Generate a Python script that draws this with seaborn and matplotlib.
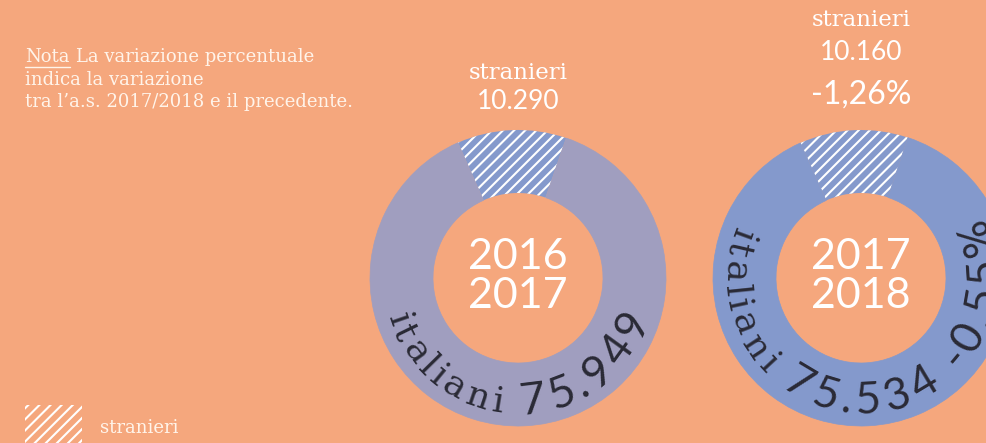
import numpy as np
import matplotlib
matplotlib.use("Agg")
import matplotlib.pyplot as plt
import seaborn as sns
from matplotlib.font_manager import FontProperties, findfont, get_font
from matplotlib.patches import Rectangle

# ---- data ----
years = ["2016\n2017", "2017\n2018"]
stranieri = [10290, 10160]
italiani = [75949, 75534]
stranieri_labels = ["10.290", "10.160"]
italiani_labels = ["75.949", "75.534"]
var_stranieri = [None, "-1,26%"]
var_italiani = [None, "-0,55%"]
ring_colors = ["#A09EBF", "#8499CC"]

BG = "#F5A77D"
HATCH_BG = "#8499CC"
DARK = "#2A2A35"
CREAM = "#FFF4EA"

sns.set_theme(style="white", rc={"figure.facecolor": BG, "axes.facecolor": BG,
                                 "hatch.color": "white", "hatch.linewidth": 1.5})
plt.rcParams["font.family"] = ["DejaVu Sans"]

W, H = 987, 443
fig = plt.figure(figsize=(W / 100, H / 100), dpi=100)
ax = fig.add_axes([0, 0, 1, 1])

SERIF = "DejaVu Serif"
SANS = "Lato"


def fp(family, size, weight="normal"):
    return FontProperties(family=family, size=size, weight=weight)


def advances(text, prop):
    font = get_font(findfont(prop))
    font.set_size(prop.get_size_in_points(), 100)
    out = []
    for c in text:
        g = font.load_char(ord(c))
        out.append(g.linearHoriAdvance / 65536.0)
    return out


def arc_text(segments, cx, cy, R, th0, th1, color):
    chars, props, adv = [], [], []
    for s, p in segments:
        a = advances(s, p)
        chars += list(s)
        props += [p] * len(s)
        adv += a
    adv = np.array(adv)
    pos = np.cumsum(adv) - adv / 2
    pos = (pos - pos[0]) / (pos[-1] - pos[0])
    for c, p, u in zip(chars, props, pos):
        if c == " ":
            continue
        th = np.radians(th0 + (th1 - th0) * u)
        ax.text(cx + R * np.cos(th), cy + R * np.sin(th), c,
                rotation=np.degrees(th) + 90, rotation_mode="anchor",
                ha="center", va="baseline", fontproperties=p, color=color)


centers = [(518, 165), (861, 165)]
starts = [71.0, 71.5]
R_OUT, WIDTH = 148, 63

for i in range(2):
    cx, cy = centers[i]
    wedges, _ = ax.pie([stranieri[i], italiani[i]], center=(cx, cy), radius=R_OUT,
                       startangle=starts[i], counterclock=True,
                       colors=[HATCH_BG, ring_colors[i]],
                       wedgeprops=dict(width=WIDTH, linewidth=0))
    wedges[0].set_hatch("///")
    wedges[0].set_edgecolor("white")
    wedges[0].set_linewidth(0)
    wedges[1].set_edgecolor(ring_colors[i])
    wedges[1].set_linewidth(0.5)
    y1, y2 = years[i].split("\n")
    ax.text(cx, cy + 21, y1, ha="center", va="center", color="white",
            fontproperties=fp(SANS, 31))
    ax.text(cx, cy - 18, y2, ha="center", va="center", color="white",
            fontproperties=fp(SANS, 31))

ax.set_xlim(0, W)
ax.set_ylim(0, H)
ax.set_aspect("equal")
ax.axis("off")

# top labels
ax.text(518, 370, "stranieri", ha="center", va="center", color="white",
        fontproperties=fp(SERIF, 16.5))
ax.text(518, 342, stranieri_labels[0], ha="center", va="center", color="white",
        fontproperties=fp(SANS, 19))
ax.text(861, 423, "stranieri", ha="center", va="center", color="white",
        fontproperties=fp(SERIF, 16.5))
ax.text(861, 391, stranieri_labels[1], ha="center", va="center", color="white",
        fontproperties=fp(SANS, 19))
ax.text(861, 348, var_stranieri[1], ha="center", va="center", color="white",
        fontproperties=fp(SANS, 23))

# curved labels
arc_text([("italiani ", fp(SERIF, 26)), (italiani_labels[0], fp(SANS, 32))],
         518, 165, 136, 199, 338, DARK)
arc_text([("italiani ", fp(SERIF, 26)), (italiani_labels[1], fp(SANS, 32))],
         861, 165, 136, 160, 301, DARK)
arc_text([(var_italiani[1], fp(SANS, 32))], 861, 165, 136, 320, 380, DARK)

# note
note_fp = fp(SERIF, 13)
t = ax.text(25, 386, "Nota", ha="left", va="center", color=CREAM, fontproperties=note_fp)
fig.canvas.draw()
bb = t.get_window_extent(fig.canvas.get_renderer())
inv = ax.transData.inverted()
(x0, y0), (x1, _) = inv.transform([(bb.x0, bb.y0), (bb.x1, bb.y1)])
ax.plot([x0, x1], [y0 - 1, y0 - 1], color=CREAM, lw=1)
ax.text(x1 + 6, 386, "La variazione percentuale", ha="left", va="center",
        color=CREAM, fontproperties=note_fp)
ax.text(25, 363, "indica la variazione", ha="left", va="center", color=CREAM,
        fontproperties=note_fp)
ax.text(25, 341, "tra l\u2019a.s. 2017/2018 e il precedente.", ha="left", va="center",
        color=CREAM, fontproperties=note_fp)

# legend
ax.add_patch(Rectangle((25, 0), 57, 38, facecolor="none", edgecolor="white",
                       hatch="///", linewidth=0))
ax.text(100, 15, "stranieri", ha="left", va="center", color=CREAM,
        fontproperties=fp(SERIF, 13))

fig.savefig("out.png", dpi=100, facecolor=BG)
